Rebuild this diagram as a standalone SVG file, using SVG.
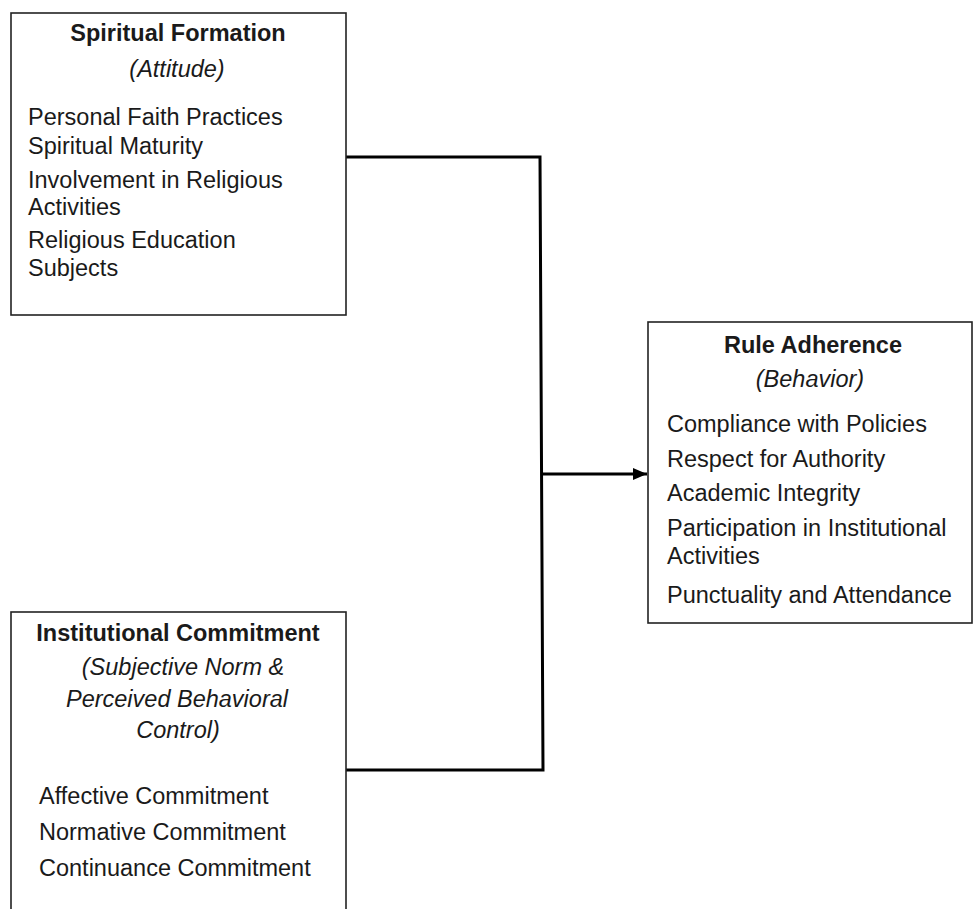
<svg xmlns="http://www.w3.org/2000/svg" width="974" height="909" viewBox="0 0 974 909">
<style>
.box{fill:#fff;stroke:#222;stroke-width:1.6}
text{font-family:"Liberation Sans",Arial,sans-serif;font-size:23.5px;fill:#1a1a1a}
.t{font-weight:bold;text-anchor:middle}
.i{font-style:italic;text-anchor:middle}
.conn{fill:none;stroke:#000;stroke-width:3}
</style>
<defs>
<marker id="ah" markerWidth="14" markerHeight="12" refX="14" refY="6" orient="auto" markerUnits="userSpaceOnUse">
<path d="M0,0 L14,6 L0,12 Z" fill="#000"/>
</marker>
</defs>
<rect width="974" height="909" fill="#fff"/>
<g id="connectors">
<path class="conn" d="M346,157 H540 L543,770 H346"/>
<path class="conn" d="M542,474 H647" marker-end="url(#ah)"/>
</g>
<g id="spiritual-formation">
<rect class="box" x="11" y="13" width="335" height="302"/>
<text class="t" x="178" y="41">Spiritual Formation</text>
<text class="i" x="177" y="77">(Attitude)</text>
<text x="28" y="125">Personal Faith Practices</text>
<text x="28" y="154">Spiritual Maturity</text>
<text x="28" y="188">Involvement in Religious</text>
<text x="28" y="215">Activities</text>
<text x="28" y="248">Religious Education</text>
<text x="28" y="276">Subjects</text>
</g>
<g id="institutional-commitment">
<rect class="box" x="11" y="612" width="335" height="320"/>
<text class="t" x="178" y="641">Institutional Commitment</text>
<text class="i" x="183" y="675">(Subjective Norm &amp;</text>
<text class="i" x="177" y="707">Perceived Behavioral</text>
<text class="i" x="178" y="738">Control)</text>
<text x="39" y="804">Affective Commitment</text>
<text x="39" y="840">Normative Commitment</text>
<text x="39" y="876">Continuance Commitment</text>
</g>
<g id="rule-adherence">
<rect class="box" x="648" y="322" width="324" height="301"/>
<text class="t" x="813" y="353">Rule Adherence</text>
<text class="i" x="810" y="387">(Behavior)</text>
<text x="667" y="432">Compliance with Policies</text>
<text x="667" y="467">Respect for Authority</text>
<text x="667" y="501">Academic Integrity</text>
<text x="667" y="536">Participation in Institutional</text>
<text x="667" y="564">Activities</text>
<text x="667" y="603">Punctuality and Attendance</text>
</g>
</svg>
